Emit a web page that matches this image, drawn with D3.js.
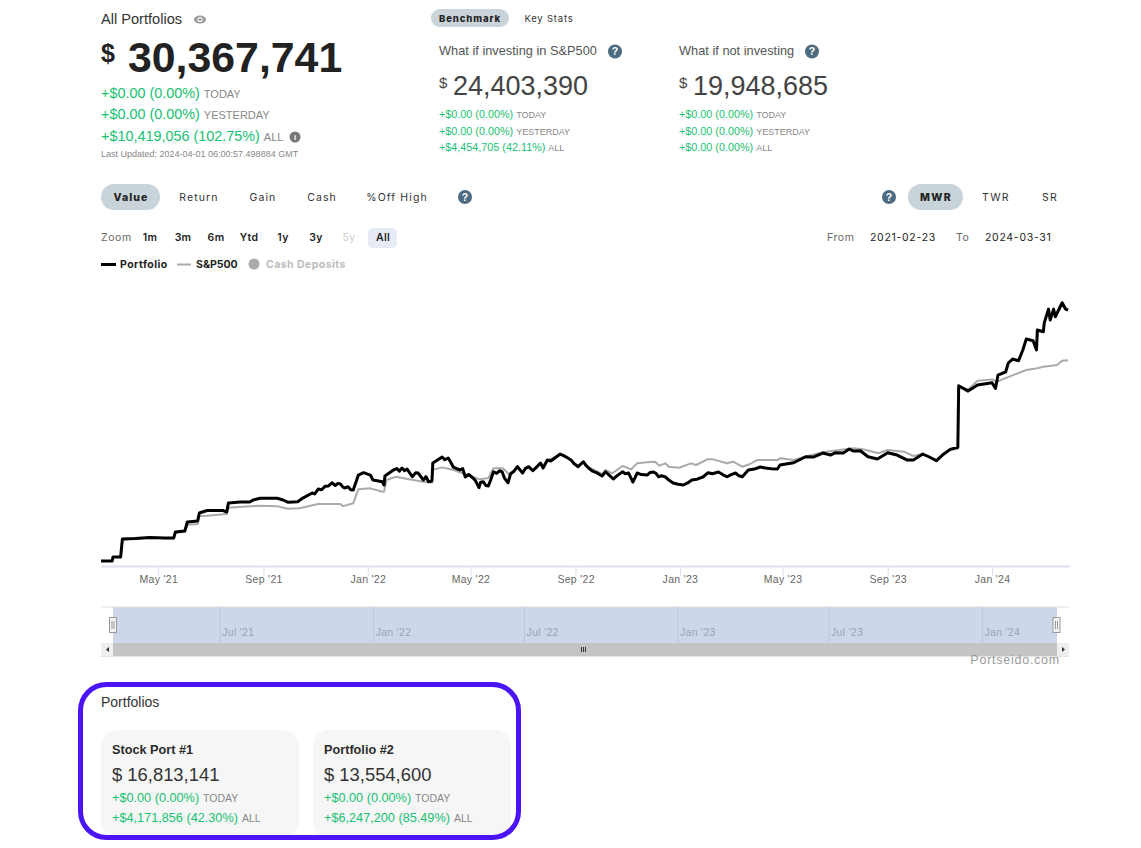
<!DOCTYPE html>
<html><head><meta charset="utf-8">
<script src="https://cdn.jsdelivr.net/npm/d3@7"></script>
<style>
html,body{margin:0;padding:0;background:#fff;overflow:hidden}
svg{display:block}
text{font-family:"Liberation Sans",Arial,sans-serif}
.ui{font-family:Inter,"Liberation Sans",sans-serif}
</style></head><body>
<svg id="c" width="1141" height="848"></svg>
<script>
const startDate = new Date(2021, 1, 23);
// days since start date, value in $ millions
const portfolioDays = [0,13,14,23,25,40,57,75,85,87,98,101,113,115,124,143,147,149,163,174,178,186,206,213,219,230,
236,247,250,254,258,262,266,270,274,277,280,283,285,289,292,295,301,
307,315,318,329,331,332,
342,346,349,352,355,358,361,364,368,371,374,377,380,383,387,388,
399,402,406,409,412,416,420,423,426,430,435,438,442,444,447,450,453,456,459,463,466,469,
472,476,479,483,487,490,493,496,500,505,509,514,517,522,526,530,
537,541,546,550,553,558,564,567,570,575,580,586,590,594,599,604,610,613,617,622,627,632,639,642,646,649,652,656,660,664,669,675,681,686,691,697,704,710,715,722,727,732,737,742,746,750,757,764,771,777,784,791,794,
810,824,833,844,853,859,868,875,880,888,897,908,920,931,943,950,961,968,977,984,993,1002,1003,1014,1025,1042,1046,1049,1058,1061,1066,1073,1078,1082,1090,1094,1095,1102,1103,1108,1110,1114,1116,1124,1128,1131];
const portfolioValues = [0.59,0.59,1.07,1.07,3.20,3.26,3.38,3.32,3.32,4.03,4.15,5.22,5.34,6.29,6.58,6.58,6.40,7.47,7.59,7.59,7.83,8.03,8.03,7.83,7.55,7.63,
8.06,8.66,8.55,9.13,9.05,9.45,9.49,9.88,9.55,9.80,9.73,9.35,9.25,9.40,9.05,9.01,10.79,
11.07,10.79,10.20,10.00,9.61,10.67,
11.39,11.55,11.25,11.62,11.30,11.50,11.05,10.59,11.05,11.03,10.60,10.20,10.60,10.00,10.08,12.22,
12.93,12.60,12.81,12.30,11.74,11.55,11.39,11.55,10.56,10.85,10.44,10.10,9.29,9.95,10.00,9.55,9.49,10.30,11.18,11.00,11.30,11.18,
10.40,9.88,10.95,11.25,11.78,11.40,11.03,11.55,11.78,11.30,11.70,12.22,11.62,12.57,12.45,12.75,
13.28,13.10,12.81,12.55,12.15,11.78,12.37,11.95,11.62,11.25,11.05,10.67,11.18,10.80,10.32,10.75,11.18,10.95,11.03,9.96,11.03,10.85,10.79,11.10,11.15,11.00,10.59,10.70,10.56,10.20,9.84,9.70,9.61,9.85,10.20,10.30,10.56,11.07,10.95,11.15,10.85,10.59,10.85,11.03,10.70,10.59,11.39,11.50,11.74,11.62,11.55,11.50,11.98,
12.25,12.96,12.93,13.40,13.16,13.44,13.40,13.88,13.64,13.67,12.96,12.69,13.44,13.16,12.57,12.57,13.28,12.96,12.49,13.16,13.84,14.08,21.38,20.75,21.47,21.74,21.07,22.65,23.04,24.08,24.55,24.35,25.62,26.92,26.72,25.62,27.99,27.79,28.82,30.48,29.18,30.48,29.57,31.23,30.48,30.37];
const sp500Days = [0,13,14,23,25,57,85,87,98,101,113,115,124,147,149,174,186,206,213,219,232,254,280,283,295,301,315,329,331,334,345,360,377,387,388,399,412,428,443,453,459,470,478,487,493,500,505,514,517,522,537,546,558,564,570,586,590,598,610,620,627,642,648,653,660,664,676,690,696,709,716,732,739,750,759,767,791,794,810,824,844,859,880,891,909,920,939,950,961,977,984,993,1002,1003,1014,1025,1042,1048,1054,1060,1072,1082,1095,1102,1118,1124,1131];
const sp500Values = [0.59,0.59,1.07,1.07,3.15,3.33,3.27,3.95,4.05,4.90,4.98,5.93,5.95,6.17,6.91,7.10,7.15,7.10,6.90,6.80,6.85,7.35,7.35,7.10,7.45,9.10,9.21,8.81,8.80,10.20,10.59,10.28,10.00,9.90,11.40,11.70,11.40,10.80,10.28,10.44,11.60,11.60,10.80,11.85,11.10,11.85,11.40,12.15,11.70,12.50,13.25,12.80,11.85,12.40,11.75,10.90,11.39,11.00,11.86,11.47,12.18,12.33,12.37,11.90,12.18,11.78,11.66,12.18,11.98,12.65,12.65,12.18,12.37,11.78,12.10,12.57,12.57,12.77,12.57,13.00,13.50,13.70,13.96,13.84,13.37,13.76,13.56,13.05,13.30,12.60,13.20,13.75,13.95,21.26,20.95,21.97,22.14,21.85,22.14,22.38,22.85,23.25,23.45,23.65,23.84,24.35,24.40];
const axisTicks = ["2021-05-01","2021-09-01","2022-01-01","2022-05-01","2022-09-01","2023-01-01","2023-05-01","2023-09-01","2024-01-01"];
const navigatorTicks = ["2021-07-01","2022-01-01","2022-07-01","2023-01-01","2023-07-01","2024-01-01"];
const rangeButtons = ["1m","3m","6m","Ytd","1y","3y","5y","All"];
const viewTabs = ["Value","Return","Gain","Cash","%Off High"];
const returnTabs = ["MWR","TWR","SR"];
const seriesNames = ["Portfolio","S&P500","Cash Deposits"];
const mainChanges = [["+$0.00 (0.00%)","TODAY"],["+$0.00 (0.00%)","YESTERDAY"],["+$10,419,056 (102.75%)","ALL"]];
const spChanges = [["+$0.00 (0.00%)","TODAY"],["+$0.00 (0.00%)","YESTERDAY"],["+$4,454,705 (42.11%)","ALL"]];
const cashChanges = [["+$0.00 (0.00%)","TODAY"],["+$0.00 (0.00%)","YESTERDAY"],["+$0.00 (0.00%)","ALL"]];
const cardNames = ["Stock Port #1","Portfolio #2"];
const cardValues = ["$ 16,813,141","$ 13,554,600"];
const cardChanges = [[["+$0.00 (0.00%)","TODAY"],["+$4,171,856 (42.30%)","ALL"]],[["+$0.00 (0.00%)","TODAY"],["+$6,247,200 (85.49%)","ALL"]]];

const GREEN="#17c172", PILL="#c9d3da", HELP="#4d6b80";
const svg=d3.select("#c");
function T(x,y,s,size,fill,opt={}){
  const t=svg.append("text").attr("x",x).attr("y",y).text(s).attr("font-size",size).attr("fill",fill);
  if(opt.bold)t.attr("font-weight",opt.bold===true?700:opt.bold);
  if(opt.anchor)t.attr("text-anchor",opt.anchor);
  if(opt.ls)t.attr("letter-spacing",opt.ls);
  if(opt.ui)t.attr("class","ui");
  return t;
}
function change(x,y,pair,s1,s2,gap){
  const t=svg.append("text").attr("x",x).attr("y",y);
  t.append("tspan").text(pair[0]).attr("font-size",s1).attr("fill",GREEN);
  t.append("tspan").text(pair[1]).attr("font-size",s2).attr("fill","#888").attr("dx",gap);
}
function help(x,y){
  svg.append("circle").attr("cx",x).attr("cy",y).attr("r",7).attr("fill",HELP);
  T(x,y+3.8,"?",10.5,"#fff",{bold:true,anchor:"middle"});
}

// Header, left
T(101,24,"All Portfolios",14.6,"#333");
const eye=svg.append("g").attr("transform","translate(200,19.5)");
eye.append("ellipse").attr("rx",6).attr("ry",4).attr("fill","#999");
eye.append("circle").attr("r",2.6).attr("fill","#fff");
eye.append("circle").attr("r",1.5).attr("fill","#999");
T(101,62,"$",25,"#222",{bold:true});
T(128,72,"30,367,741",42.8,"#222",{bold:true});
mainChanges.forEach((p,i)=>change(101,[98,119,141][i],p,14.4,11,4));
svg.append("circle").attr("cx",295).attr("cy",137).attr("r",5.5).attr("fill","#777");
T(295,140,"i",8,"#fff",{bold:true,anchor:"middle"});
T(101,157,"Last Updated: 2024-04-01 06:00:57.498884 GMT",9,"#888");

// Header, benchmark
svg.append("rect").attr("x",431).attr("y",9).attr("width",78).attr("height",18).attr("rx",9).attr("fill",PILL);
T(470,22,"Benchmark",9.5,"#222",{bold:800,anchor:"middle",ls:.9,ui:true});
T(549,22,"Key Stats",9.5,"#333",{anchor:"middle",ls:.8,ui:true});
[[439,"What if investing in S&P500",615,"24,403,390",spChanges],[679,"What if not investing",812,"19,948,685",cashChanges]].forEach(c=>{
  T(c[0],55,c[1],12.8,"#555");
  help(c[2],51.5);
  T(c[0],88,"$",15,"#444");
  T(c[0]+14,95,c[3],27,"#444");
  c[4].forEach((p,i)=>change(c[0],[118,135,151][i],p,10.8,9,3));
});

// Tabs
svg.append("rect").attr("x",101).attr("y",184).attr("width",59).attr("height",26).attr("rx",13).attr("fill",PILL);
[131,199,263,322,397].forEach((x,i)=>T(x,201,viewTabs[i],10.5,i?"#333":"#222",{anchor:"middle",ls:1.1,ui:true,bold:i?400:800}));
help(465,197);help(889,197);
svg.append("rect").attr("x",908).attr("y",184).attr("width",55).attr("height",26).attr("rx",13).attr("fill",PILL);
[936,996,1050].forEach((x,i)=>T(x,201,returnTabs[i],10.5,i?"#333":"#222",{anchor:"middle",ls:1.3,ui:true,bold:i?400:800}));

// Range selector
T(101,241,"Zoom",10.5,"#666",{ls:.6,ui:true});
svg.append("rect").attr("x",368).attr("y",228).attr("width",29).attr("height",20).attr("rx",5).attr("fill","#e6ebf5");
[150,183,216,249,283,316,349,383].forEach((x,i)=>T(x,241,rangeButtons[i],10.5,i===6?"#ccc":"#222",{anchor:"middle",ui:true,bold:i===6?400:600,ls:.3}));
T(827,241,"From",10.5,"#666",{ls:.6,ui:true});
T(870,241,"2021-02-23",10.5,"#222",{ls:.7,ui:true});
T(956,241,"To",10.5,"#666",{ls:.6,ui:true});
T(985,241,"2024-03-31",10.5,"#222",{ls:.7,ui:true});

// Legend
svg.append("line").attr("x1",101).attr("x2",116).attr("y1",264.5).attr("y2",264.5).attr("stroke","#000").attr("stroke-width",3);
T(120,268,seriesNames[0],10.5,"#222",{bold:700,ui:true,ls:.45});
svg.append("line").attr("x1",177).attr("x2",191).attr("y1",264.5).attr("y2",264.5).attr("stroke","#aaa").attr("stroke-width",2);
T(196,268,seriesNames[1],10.5,"#222",{bold:700,ui:true});
svg.append("circle").attr("cx",254).attr("cy",264).attr("r",5.5).attr("fill","#aaa");
T(266,268,seriesNames[2],10.5,"#bbb",{bold:700,ui:true,ls:.45});

// Chart
const parse=d3.utcParse("%Y-%m-%d");
const localDate=s=>{const d=parse(s);return new Date(d.getUTCFullYear(),d.getUTCMonth(),d.getUTCDate());};
const endDate=d3.timeDay.offset(startDate,1132);
const x=d3.scaleTime().domain([startDate,endDate]).range([101,1069]);
const y=d3.scaleLinear().domain([0,30.37]).range([566,310]);
const toPts=(days,vals)=>days.map((d,i)=>({t:d3.timeDay.offset(startDate,d),v:vals[i]}));
const line=d3.line().x(d=>x(d.t)).y(d=>y(d.v));
svg.append("path").datum(toPts(sp500Days,sp500Values)).attr("d",line).attr("fill","none").attr("stroke","#aaa").attr("stroke-width",2).attr("stroke-linejoin","round");
svg.append("path").datum(toPts(portfolioDays,portfolioValues)).attr("d",line).attr("fill","none").attr("stroke","#000").attr("stroke-width",3).attr("stroke-linejoin","round");
const ax=svg.append("g").attr("transform","translate(0,566)")
  .call(d3.axisBottom(x).tickValues(axisTicks.map(localDate)).tickFormat(d3.timeFormat("%b '%y")).tickSize(10).tickSizeOuter(0).tickPadding(0));
ax.select(".domain").attr("stroke","#dde1f1").attr("stroke-width",2);
ax.selectAll(".tick line").attr("stroke","#dde1f1");
ax.selectAll("text").attr("font-size",10.5).attr("fill","#666").attr("font-family","Inter,'Liberation Sans',sans-serif").attr("letter-spacing",.3);

// Navigator
const nx=d3.scaleTime().domain([startDate,endDate]).range([113,1057]);
svg.append("rect").attr("x",113).attr("y",607).attr("width",944).attr("height",36).attr("fill","#ced7ea");
svg.append("line").attr("x1",101).attr("x2",1069).attr("y1",607).attr("y2",607).attr("stroke","#ddd");
const nav=svg.append("g").attr("transform","translate(0,607)")
  .call(d3.axisBottom(nx).tickValues(navigatorTicks.map(localDate)).tickFormat(d3.timeFormat("%b '%y")).tickSize(36).tickSizeOuter(0).tickPadding(0));
nav.select(".domain").remove();
nav.selectAll(".tick line").attr("stroke","#bcc7de");
nav.selectAll("text").attr("text-anchor","start").attr("dx",2).attr("y",22).attr("font-size",10.5).attr("fill","#9aa3b8").attr("font-family","Inter,'Liberation Sans',sans-serif").attr("letter-spacing",.3);
svg.append("rect").attr("x",101).attr("y",643).attr("width",968).attr("height",13).attr("fill","#c4c4c4");
svg.append("line").attr("x1",101).attr("x2",1069).attr("y1",656.5).attr("y2",656.5).attr("stroke","#e3e3e3");
[101,1057].forEach(a=>svg.append("rect").attr("x",a).attr("y",643).attr("width",12).attr("height",13).attr("fill","#efefef"));
svg.append("path").attr("d","M109 647v5l-3-2.5z").attr("fill","#333");
svg.append("path").attr("d","M1062 647v5l3-2.5z").attr("fill","#333");
[581,583,585].forEach(a=>svg.append("line").attr("x1",a+.5).attr("x2",a+.5).attr("y1",647).attr("y2",652).attr("stroke","#333"));
[113,1056.5].forEach(a=>{
  svg.append("rect").attr("x",a-3.5).attr("y",617.5).attr("width",7).attr("height",15).attr("fill","#f2f2f2").attr("stroke","#999");
  [-1,1].forEach(o=>svg.append("line").attr("x1",a+o).attr("x2",a+o).attr("y1",621).attr("y2",629).attr("stroke","#999"));
});
T(1060,664,"Portseido.com",12.5,"#999",{anchor:"end",ls:.75});

// Portfolios
T(101,707,"Portfolios",14,"#333");
[101,313].forEach((a,i)=>{
  svg.append("rect").attr("x",a).attr("y",730).attr("width",198).attr("height",108).attr("rx",16).attr("fill","#f6f6f6");
  T(a+11,753.5,cardNames[i],12.7,"#2b2b2b",{bold:true});
  T(a+11,781,cardValues[i],18.4,"#333");
  cardChanges[i].forEach((p,j)=>change(a+11,[802,822][j],p,12.7,10.5,4));
});
svg.append("rect").attr("x",80.5).attr("y",684.5).attr("width",438).attr("height",153).attr("rx",26).attr("fill","none").attr("stroke","#4a14f5").attr("stroke-width",5);
</script></body></html>
